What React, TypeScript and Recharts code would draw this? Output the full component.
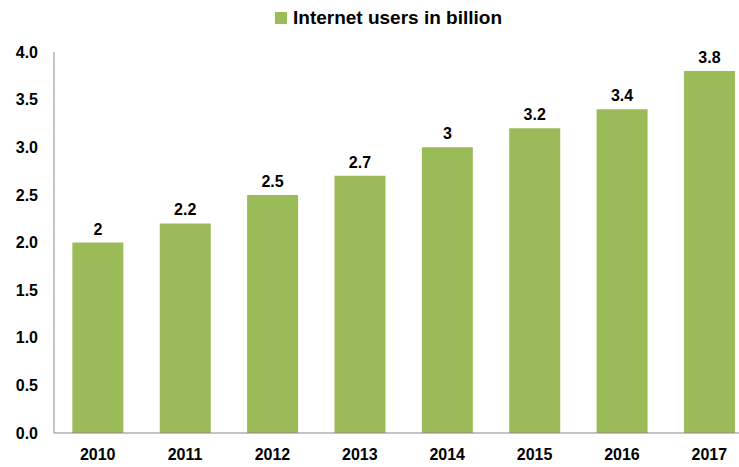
import React from "react";
import { BarChart, Bar, XAxis, YAxis, LabelList, Legend } from "recharts";

const years = ["2010", "2011", "2012", "2013", "2014", "2015", "2016", "2017"];
const users = [2, 2.2, 2.5, 2.7, 3, 3.2, 3.4, 3.8];
const yTicks = [0, 0.5, 1, 1.5, 2, 2.5, 3, 3.5, 4];
const seriesName = "Internet users in billion";

const data = years.map((y, i) => ({ year: y, users: users[i] }));

const FONT = "'Liberation Sans', Arial, sans-serif";
const GREEN = "#9BBB59";

const LegendContent = () => (
  <div style={{ display: "flex", alignItems: "center", height: 20, fontFamily: FONT, fontWeight: 700, fontSize: 19, lineHeight: "20px", color: "#000" }}>
    <span style={{ width: 12, height: 12, background: GREEN, display: "inline-block", marginRight: 6 }} />
    <span>{seriesName}</span>
  </div>
);

export default function App() {
  return (
    <div style={{ position: "fixed", left: 0, top: 0, width: 739, height: 467, overflow: "hidden", background: "#fff" }}>
      <BarChart
        width={760}
        height={467}
        data={data}
        margin={{ top: 32, right: 7, bottom: 0, left: 0 }}
        barCategoryGap="21%"
      >
        <Legend
          verticalAlign="top"
          content={<LegendContent />}
          wrapperStyle={{ top: 8, left: 275, width: 320, height: 20 }}
        />
        <XAxis
          dataKey="year"
          height={34}
          tickLine={false}
          tickSize={0}
          tickMargin={16}
          axisLine={{ stroke: "#898989" }}
          tick={{ fill: "#000", fontFamily: FONT, fontWeight: 700, fontSize: 16 }}
        />
        <YAxis
          domain={[0, 4]}
          ticks={yTicks}
          width={54}
          tickLine={false}
          tickSize={0}
          tickMargin={16}
          axisLine={{ stroke: "#898989" }}
          tickFormatter={(v: number) => v.toFixed(1)}
          tick={{ fill: "#000", fontFamily: FONT, fontWeight: 700, fontSize: 16 }}
          interval={0}
        />
        <Bar dataKey="users" name={seriesName} fill={GREEN} isAnimationActive={false}>
          <LabelList
            dataKey="users"
            position="top"
            offset={8}
            style={{ fill: "#000", fontFamily: FONT, fontWeight: 700, fontSize: 16 }}
          />
        </Bar>
      </BarChart>
    </div>
  );
}
